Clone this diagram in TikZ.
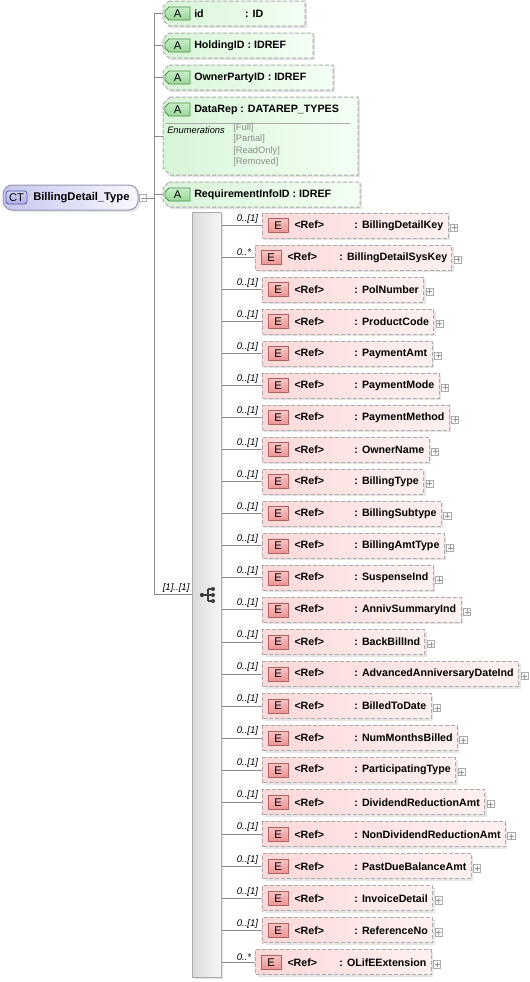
\documentclass[tikz,border=0pt]{standalone}
\usepackage{fontspec}
\setmainfont{Liberation Sans}
\usetikzlibrary{shadows,calc}
\definecolor{linec}{HTML}{8A8A8A}
\definecolor{dashc}{HTML}{ABABAB}
\definecolor{elL}{HTML}{FCD8D8}
\definecolor{elR}{HTML}{FFF1F1}
\definecolor{atL}{HTML}{D8F4D8}
\definecolor{atR}{HTML}{F3FFF3}
\definecolor{eT}{HTML}{F9C4C4}
\definecolor{eB}{HTML}{EE9494}
\definecolor{ebd}{HTML}{B06262}
\definecolor{aT}{HTML}{C8EEC8}
\definecolor{aB}{HTML}{98D698}
\definecolor{abd}{HTML}{4F8F4F}
\definecolor{ctL}{HTML}{C6C6EE}
\definecolor{ctR}{HTML}{F8F8FF}
\definecolor{ctd}{HTML}{9898B4}
\definecolor{ctbT}{HTML}{D4D4F8}
\definecolor{ctbB}{HTML}{AEAEEA}
\definecolor{ctbd}{HTML}{5C5CA4}
\definecolor{sqL}{HTML}{DADADA}
\definecolor{sqR}{HTML}{F6F6F6}
\definecolor{sqd}{HTML}{ABABAB}
\definecolor{enumc}{HTML}{8C8C8C}
\definecolor{iconc}{HTML}{3C3C3C}
\newcommand\diagfont{\fontsize{8pt}{9.6pt}\selectfont}
\newcommand\namefont{\fontsize{8.4pt}{10pt}\selectfont}
\newcommand\badgefont{\fontsize{8.4pt}{10pt}\selectfont}
\newcommand\smallfont{\fontsize{7pt}{8pt}\selectfont}
\newcommand\multfont{\fontsize{7.2pt}{8.5pt}\selectfont}
\newcommand\chamferpath[3]{%
  \path[#1] ($(#2.north west)+(#3,0)$) -- (#2.north east) -- (#2.south east)
    -- ($(#2.south west)+(#3,0)$) -- ($(#2.south west)+(0,-#3)$)
    -- ($(#2.north west)+(0,#3)$) -- cycle;}
\begin{document}
\begin{tikzpicture}[x=0.75pt,y=-0.75pt,
  conn/.style={draw=linec, line width=0.75pt},
  frame/.style={draw=none, inner sep=0pt, outer sep=0pt},
  shad/.style={drop shadow={shadow xshift=1.5pt, shadow yshift=-1.5pt, opacity=0.22, fill=black!45}},
  attrshape/.style={draw=dashc, dash pattern=on 3pt off 1.5pt, line width=0.75pt, left color=atL, right color=atR, shad},
  abadge/.style={draw=abd, line width=0.6pt, top color=aT, bottom color=aB},
  atext/.style={inner sep=0pt, anchor=west, font=\diagfont\bfseries},
  btext/.style={inner sep=0pt, font=\badgefont},
  elbox/.style={draw=dashc, dash pattern=on 3pt off 1.5pt, line width=0.75pt, left color=elL, right color=elR, shad,
     anchor=west, minimum height=18.75pt, inner xsep=0pt, inner ysep=0pt, font=\diagfont\bfseries},
  ebadge/.style={draw=ebd, line width=0.6pt, top color=eT, bottom color=eB, minimum width=15pt, minimum height=10.5pt, inner sep=0pt, font=\badgefont},
  plusbox/.style={draw=dashc, fill=white, line width=0.6pt, minimum width=5.4pt, minimum height=5.4pt, inner sep=0pt},
  pluslines/.style={draw=linec!90, line width=0.5pt},
  multlab/.style={inner sep=0.4pt, anchor=south west, font=\multfont\itshape},
  enumval/.style={inner sep=0pt, anchor=west, font=\smallfont, text=enumc},
  seqbox/.style={draw=sqd, line width=0.75pt, left color=sqL, right color=sqR, shad, minimum width=21.75pt, minimum height=573.75pt, inner sep=0pt},
  ctbox/.style={draw=ctd, line width=0.75pt, rounded corners=7pt, left color=ctL, right color=ctR, shad, minimum width=101.25pt, minimum height=18.75pt, inner sep=0pt},
  ctbadge/.style={draw=ctbd, line width=0.6pt, rounded corners=2pt, top color=ctbT, bottom color=ctbB, minimum width=15.75pt, minimum height=9.75pt, inner sep=0pt, font=\badgefont}
]
\useasboundingbox[fill=white] (0,0) rectangle (530,982);

% ---------- complex type ----------
\node[ctbox] (ct) at (70.5,197.5) {};
\node[ctbadge] (ctb) at (16.5,197.5) {CT};
\node[inner sep=0pt, anchor=west, font=\namefont\bfseries] (ctname) at (33,197.5) {BillingDetail\_Type};
\node[plusbox] (ctm) at (143,198) {};
\draw[pluslines] ($(ctm.center)+(-2.5,0)$) -- ($(ctm.center)+(2.5,0)$);

% ---------- trunk ----------
\coordinate (trtop) at (154,13.5);
\coordinate (trbot) at (154,594);
\draw[conn] (trtop) -- (trbot);
\draw[conn] (ctm.east) -- (ctm.east -| trtop);

% ---------- attributes ----------
% id
\node[frame, minimum width=106.5pt, minimum height=18.75pt] (a1) at (234,13.5) {};
\chamferpath{attrshape}{a1}{6}
\node[frame, minimum width=18.75pt, minimum height=9.75pt] (a1b) at (177.5,13.5) {};
\chamferpath{abadge}{a1b}{4}
\node[btext] at (a1b) {A};
\node[atext] (a1t) at (194,13.5) {\makebox[36pt][l]{id} : ID};
% HoldingID
\node[frame, minimum width=112.5pt, minimum height=18.75pt] (a2) at (238,45.5) {};
\chamferpath{attrshape}{a2}{6}
\node[frame, minimum width=18.75pt, minimum height=9.75pt] (a2b) at (177.5,45.5) {};
\chamferpath{abadge}{a2b}{4}
\node[btext] at (a2b) {A};
\node[atext] (a2t) at (194,45.5) {HoldingID : IDREF};
% OwnerPartyID
\node[frame, minimum width=127.5pt, minimum height=18.75pt] (a3) at (248,77.5) {};
\chamferpath{attrshape}{a3}{6}
\node[frame, minimum width=18.75pt, minimum height=9.75pt] (a3b) at (177.5,77.5) {};
\chamferpath{abadge}{a3b}{4}
\node[btext] at (a3b) {A};
\node[atext] (a3t) at (194,77.5) {OwnerPartyID : IDREF};
% DataRep
\node[frame, minimum width=146.25pt, minimum height=58.5pt] (a4) at (260.5,136) {};
\chamferpath{attrshape}{a4}{7}
\node[frame, minimum width=18.75pt, minimum height=9.75pt] (a4b) at (177.5,109.5) {};
\chamferpath{abadge}{a4b}{4}
\node[btext] at (a4b) {A};
\node[atext] (a4t) at (194,109.5) {DataRep : DATAREP\_TYPES};
\draw[draw=dashc, line width=0.75pt] (166,123) -- (350,123);
\node[inner sep=0pt, anchor=west, font=\smallfont\itshape] (enl) at (167,130.5) {Enumerations};
\node[enumval] (v1) at (233,128) {[Full]};
\node[enumval] (v2) at (233,139.3) {[Partial]};
\node[enumval] (v3) at (233,150.6) {[ReadOnly]};
\node[enumval] (v4) at (233,161.9) {[Removed]};
% RequirementInfoID
\node[frame, minimum width=147.75pt, minimum height=18.75pt] (a5) at (261.5,194.5) {};
\chamferpath{attrshape}{a5}{6}
\node[frame, minimum width=18.75pt, minimum height=9.75pt] (a5b) at (177.5,194.5) {};
\chamferpath{abadge}{a5b}{4}
\node[btext] at (a5b) {A};
\node[atext] (a5t) at (194,194.5) {RequirementInfoID : IDREF};

\foreach \k in {1,2,3,4,5} {\draw[conn] (trtop |- a\k.west) -- (a\k.west);}

% ---------- sequence ----------
\node[seqbox] (seq) at (206.5,594.5) {};
\draw[conn] (trbot) -- (seq.west |- trbot);
\node[multlab] (seqm) at (162,593) {[1]..[1]};
\draw[iconc, line width=0.8pt] (202,595) -- (208,595) (208,589) -- (208,601)
  (208,589) -- (213,589) (208,595) -- (213,595) (208,601) -- (213,601);
\fill[iconc] (202,595) circle (1.6pt) (213,589) circle (1.5pt) (213,595) circle (1.5pt) (213,601) circle (1.5pt);

% ---------- elements ----------
\foreach \nm/\kind [count=\i] in {
  BillingDetailKey/0, BillingDetailSysKey/1, PolNumber/0, ProductCode/0,
  PaymentAmt/0, PaymentMode/0, PaymentMethod/0, OwnerName/0, BillingType/0,
  BillingSubtype/0, BillingAmtType/0, SuspenseInd/0, AnnivSummaryInd/0,
  BackBillInd/0, AdvancedAnniversaryDateInd/0, BilledToDate/0,
  NumMonthsBilled/0, ParticipatingType/0, DividendReductionAmt/0,
  NonDividendReductionAmt/0, PastDueBalanceAmt/0, InvoiceDetail/0,
  ReferenceNo/0, OLifEExtension/1} {
  \pgfmathsetmacro\yy{225.5+32.04*(\i-1)}
  \ifnum\kind=1
    \def\lx{255}\def\gp{39pt}\def\lab{0..*}%
  \else
    \def\lx{262}\def\gp{45pt}\def\lab{0..[1]}%
  \fi
  \node[elbox] (e\i) at (\lx,\yy) {\hspace*{24pt}\makebox[\gp][l]{<Ref>}: \nm\hspace*{3.6pt}};
  \node[ebadge] (eb\i) at ($(e\i.west)+(16,0)$) {E};
  \node[plusbox] (ep\i) at ($(e\i.east)+(5.5,2)$) {};
  \draw[pluslines] ($(ep\i.center)+(-2.5,0)$) -- ($(ep\i.center)+(2.5,0)$)
                   ($(ep\i.center)+(0,-2.5)$) -- ($(ep\i.center)+(0,2.5)$);
  \draw[conn] (seq.east |- e\i.west) -- (e\i.west);
  \node[multlab] (m\i) at (236,{\yy-1.5}) {\lab};
}
\end{tikzpicture}
\end{document}
